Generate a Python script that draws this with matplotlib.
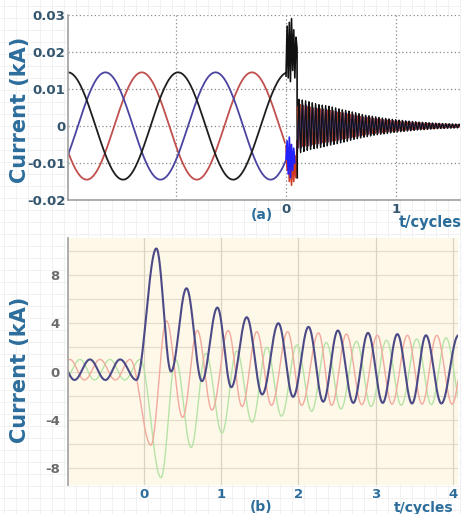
import numpy as np
import matplotlib.pyplot as plt

plt.rcParams['axes.unicode_minus'] = False

# ---- panel (a): pre-fault extrema (t in cycles, current in kA)
a_black_t = [-1.98, -1.48, -0.98, -0.48, 0.02]
a_black_v = [0.0145, -0.0145, 0.0145, -0.0145, 0.0145]
a_blue_t = [-2.14, -1.64, -1.14, -0.64, -0.14, 0.36]
a_blue_v = [-0.0145, 0.0145, -0.0145, 0.0145, -0.0145, 0.0145]
a_red_t = [-2.31, -1.81, -1.31, -0.81, -0.31, 0.19]
a_red_v = [0.0145, -0.0145, 0.0145, -0.0145, 0.0145, -0.0145]

# fault burst, 0 .. 0.1 cycles
burst_black_t = [0.0, 0.01, 0.02, 0.03, 0.04, 0.05, 0.06, 0.07, 0.08, 0.09, 0.10, 0.102]
burst_black_v = [0.0135, 0.027, 0.013, 0.028, 0.012, 0.029, 0.015, 0.026, 0.013, 0.024, 0.021, -0.014]
burst_blue_t = [0.0, 0.01, 0.02, 0.03, 0.04, 0.05, 0.06, 0.07, 0.08]
burst_blue_v = [-0.009, -0.004, -0.013, -0.003, -0.014, -0.005, -0.012, -0.006, -0.010]
burst_red_t = [0.0, 0.01, 0.02, 0.03, 0.04, 0.05, 0.06, 0.07, 0.08, 0.09, 0.10]
burst_red_v = [-0.0053, -0.012, -0.006, -0.015, -0.005, -0.016, -0.007, -0.015, -0.008, -0.014, -0.004]

# decaying high-frequency ringing after the breaker opens
ring_env_t = [0.10, 0.25, 0.40, 0.55, 0.70, 0.85, 1.00, 1.20, 1.40, 1.58]
ring_env_a = [0.0075, 0.0062, 0.0053, 0.0042, 0.0031, 0.0023, 0.0017, 0.0011, 0.0007, 0.0005]
ring_freq = 33.0   # oscillations per cycle

# ---- panel (b): extrema of the three phase currents (kA)
b_blue_t = [-1.09, -0.90, -0.70, -0.50, -0.31, -0.10, 0.16, 0.35, 0.55, 0.75, 0.95, 1.13, 1.33, 1.53,
            1.74, 1.93, 2.13, 2.32, 2.51, 2.71, 2.90, 3.09, 3.28, 3.47, 3.65, 3.85, 4.07]
b_blue_v = [1.0, -0.7, 1.0, -0.7, 1.0, -0.7, 10.2, 0.0, 6.9, -0.8, 5.3, -1.3, 4.5, -1.9,
            4.0, -2.1, 3.7, -2.5, 3.4, -2.6, 3.2, -2.6, 3.1, -2.65, 3.0, -2.65, 3.0]
b_red_t = [-1.16, -0.96, -0.77, -0.57, -0.37, -0.18, 0.09, 0.29, 0.50, 0.69, 0.88, 1.09, 1.27, 1.46,
           1.65, 1.86, 2.04, 2.26, 2.43, 2.62, 2.82, 3.02, 3.21, 3.41, 3.60, 3.79, 3.99, 4.18]
b_red_v = [-0.7, 1.0, -0.7, 1.0, -0.7, 1.0, -6.1, 4.2, -3.8, 3.4, -3.2, 3.4, -2.9, 3.3,
           -2.8, 3.3, -2.8, 3.2, -2.8, 3.1, -2.75, 3.0, -2.7, 3.0, -2.7, 3.0, -2.7, 3.0]
b_green_t = [-1.03, -0.83, -0.64, -0.44, -0.25, -0.05, 0.22, 0.41, 0.61, 0.80, 1.01, 1.20, 1.40, 1.59,
             1.78, 1.98, 2.17, 2.36, 2.55, 2.75, 2.94, 3.14, 3.33, 3.53, 3.72, 3.91, 4.11]
b_green_v = [-0.7, 1.0, -0.7, 1.0, -0.7, 1.0, -8.8, 1.0, -6.3, 1.5, -5.1, 1.7, -4.2, 2.0,
             -3.7, 2.2, -3.3, 2.4, -3.1, 2.5, -2.9, 2.6, -2.8, 2.7, -2.75, 2.8, -2.7]

a_yticks = [-0.02, -0.01, 0, 0.01, 0.02, 0.03]
a_yticklabels = ['-0.02', '-0.01', '0', '0.01', '0.02', '0.03']
b_yticks = [-8, -4, 0, 4, 8]
b_xticks = [0, 1, 2, 3, 4]

LABEL_BLUE = '#2c6d9c'


def wave(times, values, n=40):
    # smooth half-cosine stroke between successive extrema
    ts, vs = [], []
    for i in range(len(times) - 1):
        s = np.linspace(0, 1, n, endpoint=False)
        ts.append(times[i] + (times[i + 1] - times[i]) * s)
        vs.append(values[i] + (values[i + 1] - values[i]) * (1 - np.cos(np.pi * s)) / 2)
    ts.append([times[-1]])
    vs.append([values[-1]])
    return np.concatenate(ts), np.concatenate(vs)


fig = plt.figure(figsize=(4.61, 5.14), dpi=100)
fig.patch.set_facecolor('white')

# faint graph-paper background
bg = fig.add_axes([0, 0, 1, 1], zorder=-5)
bg.set_xlim(0, 461)
bg.set_ylim(514, 0)
for gx in np.arange(4, 461, 12):
    bg.axvline(gx, color='#efefef', lw=0.6)
for gy in np.arange(6, 514, 12):
    bg.axhline(gy, color='#efefef', lw=0.6)
bg.axis('off')

# ---------------- panel (a)
ax1 = fig.add_axes([68 / 461, 1 - 200 / 514, 392 / 461, 185 / 514])
ax1.set_facecolor('white')
ax1.set_xlim(-1.98, 1.58)
ax1.set_ylim(-0.02, 0.03)

for tt, vv, col in [(a_red_t, a_red_v, '#c0504d'), (a_blue_t, a_blue_v, '#4a44a0'),
                    (a_black_t, a_black_v, '#1e1e1e')]:
    t, v = wave(tt, vv)
    m = t <= 0.0
    ax1.plot(t[m], v[m], color=col, lw=1.3)

ax1.plot(burst_red_t, burst_red_v, color='#d03a22', lw=1.2)
ax1.plot(burst_blue_t, burst_blue_v, color='#2222ff', lw=1.2)
ax1.plot(burst_black_t, burst_black_v, color='#111111', lw=1.2)

tr = np.arange(0.102, 1.58, 0.002)
env = np.interp(tr, ring_env_t, ring_env_a)
ph = 2 * np.pi * ring_freq * (tr - 0.102)
ax1.plot(tr, 0.8 * env * np.sin(ph + 2.1), color='#b5402e', lw=0.8)
ax1.plot(tr, 0.85 * env * np.sin(ph + 4.2), color='#2a2ab5', lw=0.8)
ax1.plot(tr, -env * np.cos(ph), color='#111111', lw=0.9)

ax1.set_yticks(a_yticks)
ax1.set_yticklabels(a_yticklabels)
ax1.set_xticks([-1, 0, 1])
ax1.set_xticklabels(['', '0', '1'])
ax1.grid(True, color='#8a8a8a', lw=0.9, linestyle=(0, (1, 2)))
ax1.tick_params(length=0, pad=2, labelsize=9.5)
for lab in ax1.get_yticklabels():
    lab.set_fontweight('bold')
    lab.set_color('#34566e')
for lab in ax1.get_xticklabels():
    lab.set_fontweight('bold')
    lab.set_color('#34566e')
for sp in ['top', 'right']:
    ax1.spines[sp].set_visible(False)
for sp in ['left', 'bottom']:
    ax1.spines[sp].set_color('#a0a0a0')
    ax1.spines[sp].set_linewidth(1.2)

fig.text(20 / 461, 1 - 110 / 514, 'Current (kA)', rotation=90, ha='center', va='center',
         fontsize=15, fontweight='bold', color=LABEL_BLUE)
fig.text(262 / 461, 1 - 215 / 514, '(a)', ha='center', va='center',
         fontsize=10, fontweight='bold', color=LABEL_BLUE)
fig.text(430 / 461, 1 - 223 / 514, 't/cycles', ha='center', va='center',
         fontsize=10.5, fontweight='bold', color=LABEL_BLUE)

# ---------------- panel (b)
ax2 = fig.add_axes([68 / 461, 1 - 485 / 514, 390 / 461, 247 / 514])
ax2.set_facecolor('#fdf8e8')
ax2.set_xlim(-0.984, 4.065)
ax2.set_ylim(-9.41, 11.07)

for yy in range(-8, 11, 2):
    ax2.axhline(yy, color='#e4ddc9', lw=0.9, zorder=0)
for xx in b_xticks:
    ax2.axvline(xx, color='#d8d2c2', lw=0.9, zorder=0)

t, v = wave(b_green_t, b_green_v)
ax2.plot(t, v, color='#b6e3a6', lw=1.0)
t, v = wave(b_red_t, b_red_v)
ax2.plot(t, v, color='#f2a99e', lw=1.0)
t, v = wave(b_blue_t, b_blue_v)
ax2.plot(t, v, color='#4b4a86', lw=1.5)

ax2.set_yticks(b_yticks)
ax2.set_xticks(b_xticks)
ax2.tick_params(length=0, labelsize=9.5)
ax2.tick_params(axis='y', pad=6)
ax2.tick_params(axis='x', pad=2)
for lab in ax2.get_yticklabels():
    lab.set_fontweight('bold')
    lab.set_color('#6c6c6c')
for lab in ax2.get_xticklabels():
    lab.set_fontweight('bold')
    lab.set_color(LABEL_BLUE)
for sp in ['top', 'right', 'bottom']:
    ax2.spines[sp].set_visible(False)
ax2.spines['left'].set_color('#a8a8a8')
ax2.spines['left'].set_linewidth(1.3)

fig.text(20 / 461, 1 - 370 / 514, 'Current (kA)', rotation=90, ha='center', va='center',
         fontsize=15, fontweight='bold', color=LABEL_BLUE)
fig.text(261 / 461, 1 - 507 / 514, '(b)', ha='center', va='center',
         fontsize=10, fontweight='bold', color=LABEL_BLUE)
fig.text(424 / 461, 1 - 508 / 514, 't/cycles', ha='center', va='center',
         fontsize=10, fontweight='bold', color=LABEL_BLUE)

fig.savefig('out.png', dpi=100)
